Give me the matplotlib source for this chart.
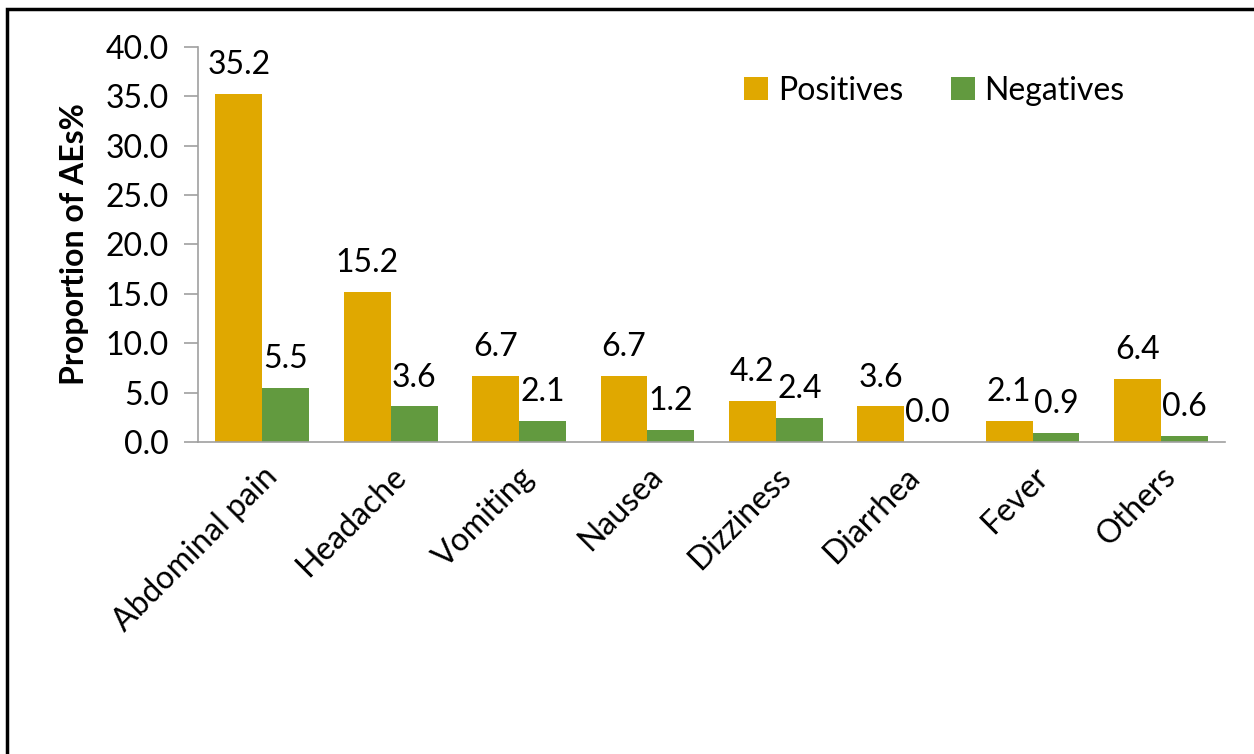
import matplotlib.pyplot as plt
import numpy as np
from matplotlib.patches import Rectangle

plt.rcParams['font.family'] = ['Lato', 'DejaVu Sans']

categories = ["Abdominal pain", "Headache", "Vomiting", "Nausea",
              "Dizziness", "Diarrhea", "Fever", "Others"]
positives = [35.2, 15.2, 6.7, 6.7, 4.2, 3.6, 2.1, 6.4]
negatives = [5.5, 3.6, 2.1, 1.2, 2.4, 0.0, 0.9, 0.6]

yellow = "#E0A800"
green = "#629A3F"
axis_gray = "#A0A0A0"
fs = 23

fig = plt.figure(figsize=(12.54, 7.54), dpi=100)
ax = fig.add_axes([0.158, 0.4138, 0.819, 0.5239])

x = np.arange(len(categories))
w = 0.365
b1 = ax.bar(x - w / 2, positives, w, color=yellow, label="Positives")
b2 = ax.bar(x + w / 2, negatives, w, color=green, label="Negatives")

for bars in (b1, b2):
    for b in bars:
        ax.annotate(f"{b.get_height():.1f}", (b.get_x() + b.get_width() / 2, b.get_height()),
                    xytext=(0, 10), textcoords="offset points",
                    ha="center", va="bottom", fontsize=fs)

ax.set_xlim(-0.5, len(categories) - 0.5)
ax.set_ylim(0, 40)
ax.set_yticks(np.arange(0, 40.1, 5))
ax.set_yticklabels([f"{v:.1f}" for v in np.arange(0, 40.1, 5)], fontsize=fs)
ax.set_xticks(x)
ax.set_xticklabels(categories, rotation=45, ha="right", rotation_mode="anchor", fontsize=fs)
ax.tick_params(axis="x", length=0, pad=14)
ax.tick_params(axis="y", length=10, width=1.2, color=axis_gray, pad=11)

for s in ("top", "right"):
    ax.spines[s].set_visible(False)
for s in ("left", "bottom"):
    ax.spines[s].set_color(axis_gray)
    ax.spines[s].set_linewidth(1.2)

ax.set_ylabel("Proportion of AEs%", fontsize=fs, fontweight="bold", labelpad=12)

ax.legend(loc="upper right", bbox_to_anchor=(0.93, 1.0), ncol=2, frameon=False,
          fontsize=fs, handlelength=0.75, handleheight=0.75, handletextpad=0.3,
          columnspacing=1.5)

# outer frame around the chart
fig.patches.append(Rectangle((7 / 1254, -0.1), 1.2, 1 - 9 / 754 + 0.1,
                             transform=fig.transFigure, fill=False,
                             edgecolor="black", linewidth=2.5))

fig.savefig("out.png", dpi=100)
